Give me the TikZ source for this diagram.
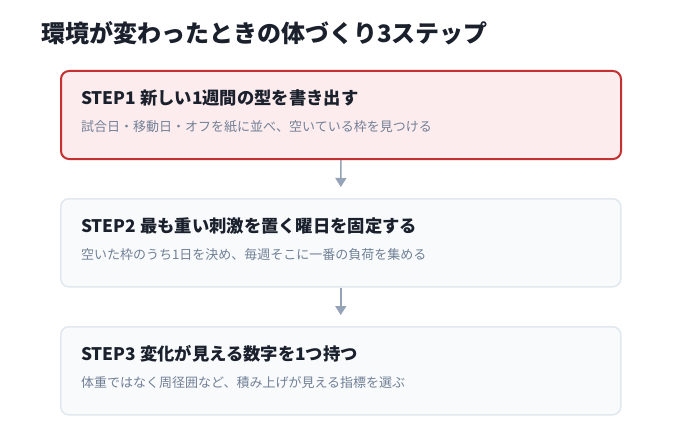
\documentclass[tikz,border=0pt]{standalone}
\usepackage{fontspec}
\setmainfont{Noto Sans CJK JP}
\usetikzlibrary{arrows.meta}
\definecolor{titlec}{HTML}{1A202C}
\definecolor{subc}{HTML}{718096}
\definecolor{redb}{HTML}{C53030}
\definecolor{redf}{HTML}{FDECEE}
\definecolor{grayb}{HTML}{E2E8F0}
\definecolor{grayf}{HTML}{F8FAFC}
\definecolor{arrc}{HTML}{94A3B8}
\tikzset{
  stepbox/.style={draw=grayb, fill=grayf, line width=1.5pt, rounded corners=8pt,
    minimum width=560pt, minimum height=88pt, anchor=north west, inner sep=0pt},
  hotbox/.style={stepbox, draw=redb, fill=redf, line width=2pt},
  ttl/.style={anchor=base west, inner sep=0pt, font=\fontsize{17.3pt}{20pt}\selectfont\bfseries, text=titlec},
  sub/.style={anchor=base west, inner sep=0pt, font=\fontsize{13pt}{15pt}\selectfont, text=subc},
  arr/.style={draw=arrc, line width=1.5pt, -{Triangle[width=11pt,length=9pt]}, shorten >=11pt}
}
\begin{document}
\begin{tikzpicture}[x=1pt,y=1pt]
\useasboundingbox[fill=white] (0,0) rectangle (680,-444);
\node[anchor=base west, inner sep=0pt, font=\fontsize{24pt}{28pt}\selectfont\bfseries, text=titlec] (head) at (41,-43) {環境が変わったときの体づくり3ステップ};
\node[hotbox] (s1) at (60,-70) {};
\node[stepbox] (s2) at (60,-198) {};
\node[stepbox] (s3) at (60,-326) {};
\node[ttl] (t1) at (81,-104.5) {STEP1 新しい1週間の型を書き出す};
\node[sub] (d1) at (81,-131.5) {試合日・移動日・オフを紙に並べ、空いている枠を見つける};
\node[ttl] (t2) at (81,-232.5) {STEP2 最も重い刺激を置く曜日を固定する};
\node[sub] (d2) at (81,-259.5) {空いた枠のうち1日を決め、毎週そこに一番の負荷を集める};
\node[ttl] (t3) at (81,-360.5) {STEP3 変化が見える数字を1つ持つ};
\node[sub] (d3) at (81,-387.5) {体重ではなく周径囲など、積み上げが見える指標を選ぶ};
\draw[arr] (s1.south) -- (s2.north);
\draw[arr] (s2.south) -- (s3.north);
\end{tikzpicture}
\end{document}
